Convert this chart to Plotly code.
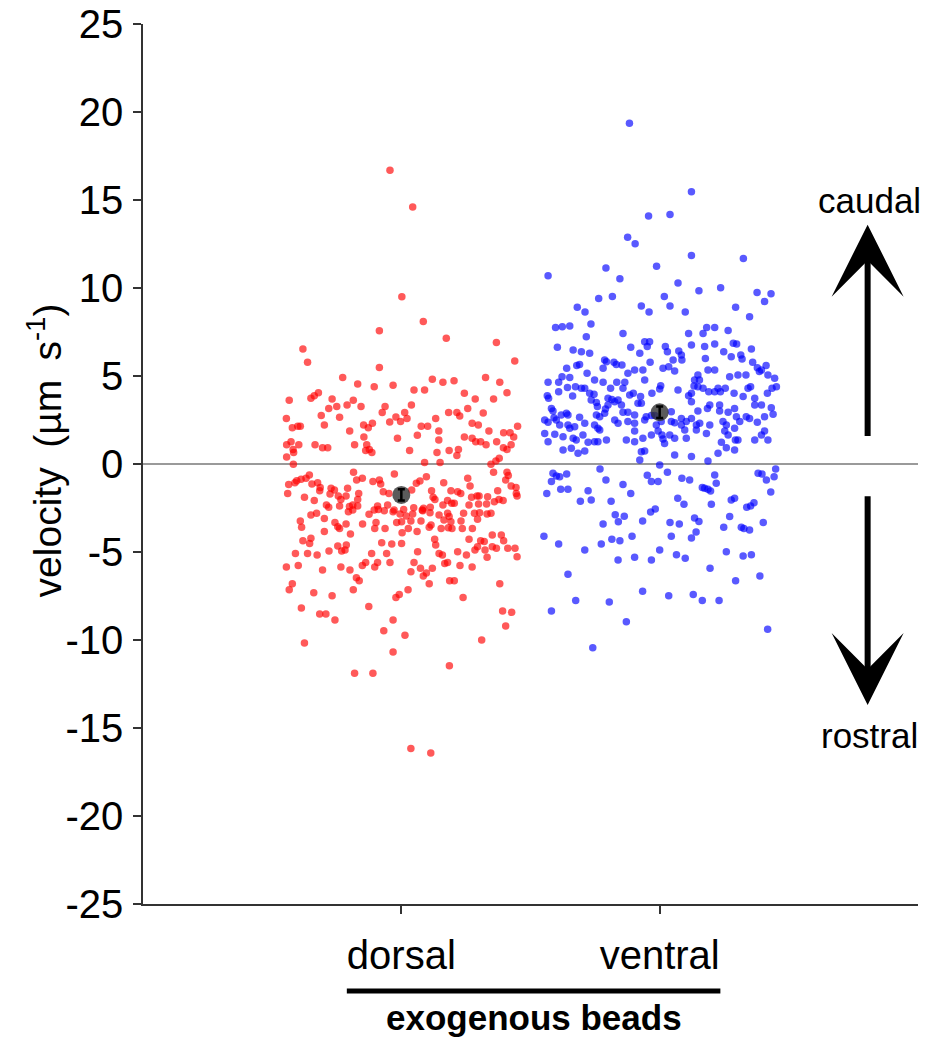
import plotly.graph_objects as go

# ---------------- data ----------------
categories = ["dorsal", "ventral"]

dorsal_jitter = [
    -0.044, 0.044, 0.002, 0.085, -0.085, 0.174, 0.368, -0.381,
    -0.363, 0.439, -0.085, -0.227, -0.169, -0.105, -0.032, 0.120, 0.161, 0.204,
    0.326, 0.381, 0.049, 0.090, 0.244, 0.409, -0.434, -0.350, -0.337, -0.321,
    -0.268, -0.281, -0.250, -0.210, -0.186, -0.156, -0.063, -0.074, 0.039, 0.286,
    0.357, 0.257, -0.445, -0.310, -0.239, -0.021, 0.013, 0.022, -0.003, -0.045,
    0.183, 0.215, 0.226, 0.317, 0.133, -0.422, -0.401, -0.391, -0.298, -0.146,
    -0.128, -0.112, -0.200, 0.077, 0.102, 0.145, 0.274, 0.298, 0.339, 0.450,
    0.396, 0.421, 0.435, -0.145, -0.015, 0.062, 0.145, 0.244, 0.274, 0.288,
    0.307, 0.328, 0.369, -0.444, -0.427, -0.419, -0.397, -0.334, -0.305, -0.285,
    -0.181, -0.134, -0.124, -0.138, -0.114, 0.032, 0.138, 0.185, 0.221, 0.215,
    0.425, 0.409, 0.395, -0.444, -0.417, 0.379, 0.366,
    -0.418, 0.090, 0.150, 0.347, -0.185, -0.173, -0.151, -0.110, -0.085, -0.080,
    -0.027, 0.058, 0.072, 0.097, 0.164, 0.257, 0.266, 0.357, 0.409, 0.414,
    0.404, 0.425, 0.444, -0.436, -0.412, -0.405, -0.388, -0.369, -0.356, -0.346,
    -0.324, -0.314, -0.316, -0.272, -0.259, -0.208, -0.440, -0.375, -0.337, -0.276,
    -0.244, -0.214, -0.169, -0.165, -0.070, -0.048, 0.040, 0.117, 0.123, 0.192,
    0.218, 0.230, 0.272, 0.293, 0.301, 0.334, 0.373, 0.378, 0.394, 0.445,
    0.448, -0.290, -0.281, -0.239, -0.234, -0.201, -0.188, -0.169, -0.092, -0.089,
    -0.066, -0.053, -0.028, 0.009, 0.048, 0.086, 0.083, 0.112, 0.130, 0.161,
    0.179, 0.195, 0.205, 0.262, 0.299, 0.330, 0.360, -0.350, -0.328, -0.298,
    -0.205, -0.188, -0.125, -0.105, -0.032, -0.005, 0.019, 0.044, 0.081, 0.111,
    0.146, 0.179, 0.185, 0.241, 0.283, 0.303, 0.332, 0.347, 0.295, -0.391,
    -0.386, -0.257, -0.246, -0.214, -0.150, -0.098, -0.103, -0.018, 0.001, 0.037,
    0.076, 0.115, 0.165, 0.192, 0.231, 0.236, 0.182, 0.154, -0.298, -0.239,
    -0.197, -0.063, 0.003, 0.027, 0.061, 0.108, 0.196, 0.275, -0.381, -0.350,
    -0.355, -0.246, -0.213, -0.218, -0.076, -0.037, 0.001, 0.129, 0.133, 0.262,
    0.307, 0.321, 0.352, 0.387, 0.396, 0.295, 0.285, 0.324, 0.352, 0.368,
    0.412, 0.440, -0.410, -0.363, -0.326, -0.280, -0.231, -0.115, -0.057, 0.063,
    0.146, 0.159, 0.218, 0.252, 0.448, 0.332,
    -0.445, -0.399, -0.305, -0.234, -0.199, -0.151, -0.138, -0.103, -0.092, -0.044,
    0.049, 0.037, 0.074, 0.085, 0.097, 0.120, 0.168, 0.179, 0.227, 0.274,
    -0.422, -0.434, -0.339, -0.268, -0.174, -0.163, -0.186, -0.126, -0.021, -0.008,
    0.026, 0.108, 0.187, 0.205, 0.239, 0.381, -0.387, -0.316, -0.292, -0.257,
    -0.032, -0.068, 0.014, -0.032, -0.375, 0.311, 0.392, 0.427, 0.404, 0.186,
    -0.181, -0.110, 0.037, 0.114,
]
dorsal_velocity = [
    16.69, 14.60, 9.50, 8.10, 7.57, 7.14, 6.91, 6.53,
    5.78, 5.85, 5.49, 4.91, 4.55, 4.39, 4.47, 4.81, 4.64, 4.73,
    4.91, 4.64, 4.20, 4.20, 4.02, 4.05, 3.62, 3.73, 3.88, 4.05,
    3.69, 3.16, 3.26, 3.35, 3.62, 3.26, 3.26, 2.92, 3.35, 3.69,
    3.69, 3.16, 2.58, 2.75, 2.65, 2.67, 2.92, 2.58, 2.41, 2.39,
    2.92, 2.92, 2.73, 2.90, 2.58, 2.06, 2.14, 2.14, 2.22, 2.22,
    2.06, 2.31, 1.88, 2.14, 2.14, 1.88, 2.31, 2.22, 1.88, 2.14,
    1.78, 1.78, 1.53, 1.53, 1.46, 1.63, 1.36, 1.53, 1.46, 1.27,
    1.27, 1.10, 1.27, 1.10, 1.27, 0.83, 1.10, 1.10, 0.93, 0.93,
    1.10, 1.10, 0.83, 0.76, 0.66, 0.76, 0.66, 0.76, 0.83, 0.49,
    1.10, 0.83, 0.93, 0.40, 0.66, 0.32, 0.17,
    -0.02, 0.08, 0.08, -0.02, -0.47, -0.91, -0.81, -1.00, -0.91, -1.14,
    -0.57, -1.10, -0.97, -0.72, -1.06, -0.81, -1.25, -0.47, -0.47, -0.66,
    -0.91, -1.25, -1.33, -1.16, -1.06, -0.95, -0.87, -0.81, -0.63, -1.14,
    -1.06, -1.33, -1.52, -1.38, -1.48, -1.38, -1.67, -1.89, -2.08, -1.70,
    -1.82, -1.82, -2.01, -1.67, -1.57, -1.67, -1.48, -1.52, -1.89, -1.52,
    -1.57, -1.67, -1.89, -1.82, -1.82, -1.86, -1.52, -2.01, -2.08, -1.67,
    -1.82, -2.33, -2.46, -2.39, -2.01, -2.42, -2.33, -2.39, -2.39, -2.58,
    -2.65, -2.33, -2.61, -2.58, -2.48, -2.52, -2.65, -2.46, -2.01, -2.33,
    -2.08, -2.23, -2.23, -2.33, -2.27, -2.27, -2.14, -2.90, -2.80, -3.09,
    -2.71, -2.61, -2.86, -2.61, -2.71, -2.84, -2.95, -2.84, -2.61, -2.77,
    -2.90, -2.80, -2.99, -2.80, -2.80, -2.77, -2.84, -2.80, -3.14, -3.24,
    -3.60, -3.33, -3.56, -3.41, -3.41, -3.33, -3.67, -3.33, -3.28, -3.24,
    -3.24, -3.47, -3.18, -3.28, -3.24, -3.66, -3.62, -3.66, -3.84, -3.66,
    -3.98, -3.66, -3.90, -3.66, -3.84, -3.60, -3.66, -3.66, -4.36, -4.22,
    -4.51, -4.66, -4.60, -4.89, -4.47, -4.55, -4.51, -4.28, -4.60, -4.28,
    -4.36, -4.41, -4.03, -4.03, -4.36, -4.70, -4.89, -4.89, -4.70, -4.79,
    -4.79, -4.79, -5.08, -5.08, -5.17, -4.94, -4.94, -5.08, -5.08, -4.98,
    -5.08, -5.17, -4.98, -5.17, -5.27, -5.30,
    -5.85, -5.76, -6.02, -5.85, -6.02, -5.76, -5.59, -5.85, -5.59, -5.59,
    -5.59, -6.12, -5.93, -6.36, -6.19, -5.93, -5.66, -5.59, -5.76, -5.85,
    -6.80, -7.14, -7.31, -7.48, -6.46, -6.63, -7.14, -8.09, -7.58, -7.41,
    -7.14, -6.80, -6.63, -6.63, -7.58, -6.80, -8.18, -8.52, -8.52, -8.86,
    -8.86, -9.47, -9.73, -10.68, -10.17, -10.00, -8.35, -8.43, -9.20, -11.46,
    -11.89, -11.89, -16.16, -16.42,
]

ventral_jitter = [
    -0.117, 0.123, -0.043, 0.040, -0.124, -0.095, 0.123, 0.324, -0.432, -0.208,
    -0.012, -0.154, 0.071, 0.152, 0.236, 0.377, 0.431, 0.406, -0.236, -0.183,
    0.018, -0.319, -0.289, -0.071, -0.041, 0.040, 0.099, 0.294, 0.348, -0.266,
    -0.403, -0.377, -0.348, 0.182, 0.213, 0.265, -0.142, -0.284, 0.112, 0.168,
    -0.396, -0.335, -0.303, -0.271, -0.112, -0.077, -0.058, -0.039, -0.048, 0.022,
    0.030, 0.052, 0.074, 0.084, 0.086, 0.123, 0.174, 0.213, 0.248, 0.285,
    0.298, 0.277, 0.314, 0.319, 0.355, 0.360, 0.378, 0.394, 0.412, 0.419,
    0.445, 0.452, 0.435, 0.417, -0.360, -0.321, -0.310, -0.281, -0.252, -0.213,
    -0.206, -0.219, -0.177, -0.168, -0.146, -0.123, -0.097, -0.065, -0.037, 0.013,
    0.035, 0.058, 0.135, 0.148, 0.177, 0.187, 0.213, 0.271, 0.303, 0.334,
    0.386, -0.432, -0.391, -0.378, -0.348, -0.357, -0.326, -0.303, -0.290, -0.271,
    -0.254, -0.265, -0.245, -0.241, -0.435, -0.430, -0.391, -0.337, -0.219, -0.190,
    -0.166, -0.135, -0.142, -0.116, -0.102, -0.074, -0.084, -0.058, -0.030, 0.004,
    0.000, 0.071, 0.123, 0.133, 0.148, 0.154, 0.112, 0.123, 0.168, 0.190,
    0.213, 0.226, 0.235, 0.254, 0.288, 0.323, 0.342, 0.352, 0.368, 0.394,
    0.432, 0.406, 0.368, -0.200, -0.185, -0.174, -0.161, -0.200, -0.210, -0.148,
    -0.071, -0.419, -0.413, -0.381, -0.361, -0.355, -0.310, -0.245, -0.232, -0.213,
    -0.142, -0.123, -0.097, -0.052, -0.032, -0.019, 0.045, 0.084, 0.103, 0.123,
    0.148, 0.185, 0.194, 0.232, 0.232, 0.265, 0.290, 0.297, 0.310, 0.335,
    0.348, 0.378, 0.439, -0.445, -0.432, -0.409, -0.400, -0.387, -0.355, -0.329,
    -0.290, -0.252, -0.239, -0.232, -0.174, -0.161, -0.123, -0.097, -0.058, -0.013,
    0.006, 0.045, 0.058, 0.084, 0.097, 0.142, 0.155, 0.194, 0.245, 0.258,
    0.290, -0.445, -0.406, -0.374, -0.348, -0.335, -0.323, -0.297, -0.277, -0.252,
    -0.239, -0.206, -0.129, -0.097, -0.065, -0.032, -0.006, 0.009, 0.013, 0.019,
    0.039, 0.058, 0.103, 0.142, 0.181, 0.252, 0.265, 0.239, 0.293, 0.303,
    0.368, 0.419, 0.406, 0.394, -0.432, -0.374, -0.342, -0.316, -0.290, -0.097,
    -0.071, -0.058, 0.058, 0.226, 0.258, 0.290, -0.077, 0.000, 0.123, 0.187,
    -0.231, 0.030, -0.048, -0.032, -0.006, 0.086, 0.116, 0.213, 0.219, 0.381,
    0.396, 0.413, 0.443, 0.449, -0.413, -0.400, -0.387, -0.419, -0.360, -0.383,
    -0.355, -0.437, -0.208, -0.142, -0.277, -0.307, -0.265, -0.188, -0.112, 0.165,
    0.174, 0.187, 0.197, 0.070, 0.094, 0.200, 0.277, 0.290, 0.337, 0.352,
    0.365, 0.430, -0.172, -0.160, -0.137, -0.035, -0.017, -0.066, -0.219, 0.040,
    0.076, 0.135, 0.152, 0.271, 0.248, 0.316, 0.326, 0.348, 0.401, 0.141,
    0.123, 0.045, -0.107, -0.185, -0.154, -0.226, -0.391, -0.448, -0.290, 0.000,
    0.258, 0.065, 0.099, -0.097, -0.032, -0.161, 0.323, 0.355,
    -0.355, 0.195, 0.294, 0.388, -0.325, -0.195, -0.066, 0.035, 0.130, 0.165,
    0.230, -0.419, -0.129, 0.418, -0.259,
]
ventral_velocity = [
    19.36, 15.47, 14.09, 14.17, 12.88, 12.52, 11.84, 11.67, 10.70, 11.14,
    11.23, 10.53, 10.28, 9.85, 10.02, 9.75, 9.68, 9.24, 9.41, 9.51,
    9.51, 8.90, 8.64, 8.98, 8.64, 8.98, 8.64, 8.90, 8.37, 7.95,
    7.75, 7.80, 7.84, 7.75, 7.75, 7.59, 7.42, 7.23, 7.42, 7.42,
    6.63, 6.48, 6.38, 6.29, 6.63, 6.29, 6.95, 6.95, 6.67, 6.67,
    6.38, 5.91, 6.42, 6.19, 5.91, 6.76, 6.67, 6.82, 6.38, 6.86,
    6.82, 6.10, 6.19, 5.97, 6.53, 5.78, 5.47, 5.34, 5.59, 5.06,
    4.87, 4.39, 4.30, 4.02, 5.44, 5.59, 5.66, 5.15, 4.77, 5.91,
    5.81, 5.44, 5.78, 5.66, 5.63, 5.15, 5.34, 5.34, 5.78, 5.44,
    5.53, 5.28, 4.77, 5.06, 6.00, 5.34, 5.34, 4.96, 5.06, 5.06,
    5.25, 4.64, 4.64, 4.96, 4.91, 4.34, 4.39, 4.30, 4.30, 4.02,
    3.96, 3.64, 3.50, 3.26, 3.88, 3.73, 4.11, 3.86, 4.64, 4.30,
    4.64, 4.64, 4.30, 3.92, 4.02, 3.83, 3.45, 4.77, 4.02, 4.45,
    4.26, 4.20, 4.02, 4.43, 4.39, 4.77, 3.88, 3.54, 4.30, 4.11,
    4.11, 4.30, 4.11, 4.30, 4.02, 3.83, 4.30, 4.39, 3.73, 3.35,
    3.20, 2.69, 3.35, 3.73, 3.67, 3.54, 3.64, 3.35, 3.13, 3.35,
    3.45, 3.16, 3.01, 2.78, 2.88, 2.78, 2.65, 2.78, 2.69, 2.88,
    2.94, 2.94, 2.78, 2.69, 2.75, 2.75, 2.97, 2.59, 2.41, 2.59,
    3.01, 3.16, 3.35, 3.35, 3.01, 2.94, 3.16, 2.69, 2.41, 2.69,
    2.59, 2.37, 2.82, 2.50, 2.37, 2.63, 2.50, 2.22, 2.22, 2.12,
    2.31, 2.22, 2.03, 1.93, 2.50, 2.31, 2.41, 2.31, 2.50, 2.22,
    2.41, 2.41, 2.35, 2.22, 1.93, 2.22, 2.31, 2.22, 2.41, 2.22,
    2.03, 1.74, 1.69, 1.55, 2.03, 1.46, 1.36, 1.65, 1.23, 1.27,
    1.27, 1.36, 1.36, 1.88, 1.46, 1.65, 1.88, 1.65, 1.42, 1.17,
    1.65, 1.46, 1.46, 1.93, 1.74, 1.88, 1.65, 1.23, 1.36, 1.36,
    1.36, 1.36, 1.88, 1.65, 1.27, 0.80, 0.89, 0.61, 0.74, 1.27,
    0.70, 0.74, 0.51, 0.61, 0.93, 0.80, 0.23, -0.06, 0.42, 0.17,
    -0.28, -0.47, -0.64, -1.00, -1.00, -0.81, -0.91, -0.63, -1.10, -0.53,
    -0.57, -0.91, -0.72, -0.28, -0.53, -0.68, -0.72, -1.00, -0.57, -1.44,
    -1.44, -1.67, -0.91, -1.17, -1.52, -2.12, -2.05, -2.12, -1.67, -1.33,
    -1.38, -1.44, -1.53, -1.95, -2.29, -2.29, -2.05, -1.95, -2.46, -2.39,
    -2.20, -1.59, -2.88, -3.28, -2.97, -2.73, -2.56, -3.24, -3.41, -3.33,
    -3.41, -3.07, -3.26, -2.99, -3.60, -3.60, -3.66, -3.75, -3.33, -3.86,
    -4.20, -4.11, -4.11, -4.28, -4.36, -4.55, -4.55, -4.11, -4.89, -4.89,
    -4.98, -5.15, -5.36, -5.30, -5.45, -5.45, -5.23, -5.15,
    -6.27, -5.93, -6.63, -6.36, -7.75, -7.84, -7.23, -7.48, -7.41, -7.75,
    -7.75, -8.35, -8.96, -9.39, -10.44,
]

group_means = [-1.76, 2.94]
group_sem = [0.32, 0.33]

y_ticks = [25, 20, 15, 10, 5, 0, -5, -10, -15, -20, -25]

assert len(dorsal_jitter) == len(dorsal_velocity)
assert len(ventral_jitter) == len(ventral_velocity)

FONT = "Liberation Sans, Arial, Helvetica, sans-serif"

fig = go.Figure()

fig.add_trace(go.Scatter(
    x=[0 + j for j in dorsal_jitter], y=dorsal_velocity, mode="markers",
    marker=dict(size=7.5, color="rgb(255,0,0)", opacity=0.65, line=dict(width=0)),
    showlegend=False, hoverinfo="skip"))
fig.add_trace(go.Scatter(
    x=[1 + j for j in ventral_jitter], y=ventral_velocity, mode="markers",
    marker=dict(size=7.5, color="rgb(0,0,255)", opacity=0.65, line=dict(width=0)),
    showlegend=False, hoverinfo="skip"))

# mean markers (grey disc) with the s.e.m. bar drawn on top
fig.add_trace(go.Scatter(
    x=[0, 1], y=group_means, mode="markers",
    marker=dict(size=18, color="rgba(50,50,50,0.8)", line=dict(width=0)),
    showlegend=False, hoverinfo="skip"))
fig.add_trace(go.Scatter(
    x=[0, 1], y=group_means, mode="markers",
    marker=dict(size=1, color="rgba(0,0,0,0)"),
    error_y=dict(type="data", array=group_sem, color="black", thickness=2.5, width=3.5),
    showlegend=False, hoverinfo="skip"))

fig.update_layout(
    width=921, height=1030,
    margin=dict(l=135, r=11, t=16, b=134, autoexpand=False),
    paper_bgcolor="white", plot_bgcolor="white",
    font=dict(family=FONT, color="black", size=40),
    xaxis=dict(
        range=[-1, 2], tickmode="array", tickvals=[0, 1], ticktext=categories,
        showline=True, linecolor="#333", linewidth=1.5,
        ticks="outside", ticklen=8, tickwidth=1.5, tickcolor="#333",
        showgrid=False, zeroline=False, automargin=False,
        ticklabelstandoff=7, ticklabeloverflow="allow",
        tickfont=dict(size=40, family=FONT),
    ),
    yaxis=dict(
        range=[-25, 25], tickmode="array", tickvals=y_ticks,
        ticktext=[str(t) for t in y_ticks],
        showline=True, linecolor="#333", linewidth=1.5,
        ticks="outside", ticklen=8, tickwidth=1.5, tickcolor="#333",
        showgrid=False, zeroline=True, zerolinecolor="#9a9a9a", zerolinewidth=2,
        automargin=False, ticklabelstandoff=2, ticklabeloverflow="allow",
        tickfont=dict(size=40, family=FONT),
    ),
)

# y-axis title
fig.add_annotation(x=-0.127, y=0.515, xref="paper", yref="paper",
                   text="velocity\u2002(µm\u2002s<sup>-1</sup>)", textangle=-90,
                   showarrow=False, xanchor="center", yanchor="middle",
                   font=dict(size=39, family=FONT, color="black"))

# direction arrows
arrow_x = 1.805
fig.add_annotation(x=arrow_x, y=13.6, ax=arrow_x, ay=1.5, xref="x", yref="y",
                   axref="x", ayref="y", showarrow=True, arrowhead=3,
                   arrowsize=2.0, arrowwidth=6, arrowcolor="black", text="")
fig.add_annotation(x=arrow_x, y=-13.7, ax=arrow_x, ay=-1.75, xref="x", yref="y",
                   axref="x", ayref="y", showarrow=True, arrowhead=3,
                   arrowsize=2.0, arrowwidth=6, arrowcolor="black", text="")
fig.add_annotation(x=1.813, y=15.0, xref="x", yref="y", text="caudal", showarrow=False,
                   xanchor="center", yanchor="middle",
                   font=dict(size=35, family=FONT, color="black"))
fig.add_annotation(x=1.813, y=-15.4, xref="x", yref="y", text="rostral", showarrow=False,
                   xanchor="center", yanchor="middle",
                   font=dict(size=35, family=FONT, color="black"))

# group bracket under the category labels
fig.add_shape(type="line", xref="paper", yref="paper", x0=0.263, x1=0.745,
              y0=-0.099, y1=-0.099, line=dict(color="black", width=5))
fig.add_annotation(x=0.5045, y=-0.1295, xref="paper", yref="paper",
                   text="<b>exogenous beads</b>", showarrow=False,
                   xanchor="center", yanchor="middle",
                   font=dict(size=35, family=FONT, color="black"))

fig.write_html("out.html")
